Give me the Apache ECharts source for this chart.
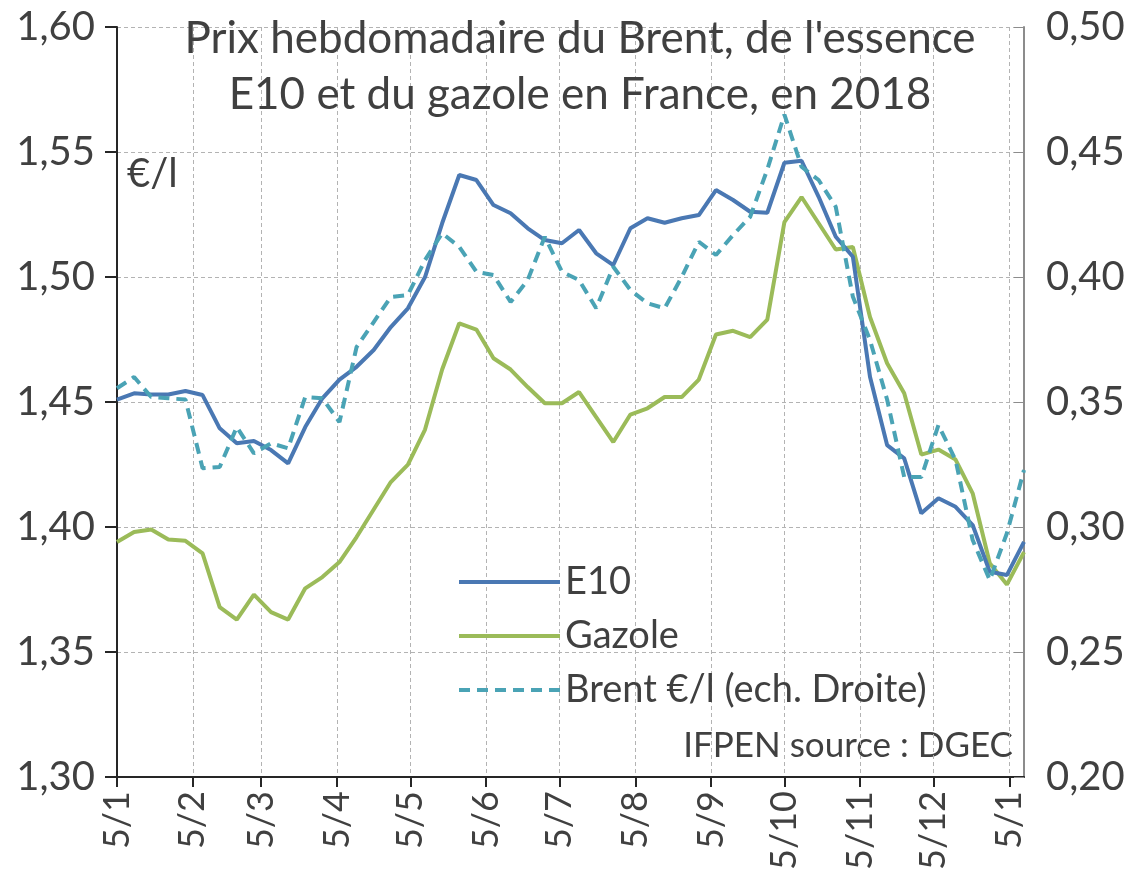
<!DOCTYPE html>
<html>
<head>
<meta charset="utf-8">
<script src="https://cdn.jsdelivr.net/npm/echarts@6/dist/echarts.min.js"></script>
<style>
html, body { margin: 0; padding: 0; background: #fff; }
#chart { width: 1137px; height: 873px; }
</style>
</head>
<body>
<div id="chart"></div>
<script>
// semaines (vendredi) 2018
var weeks = ['2018-01-05','2018-01-12','2018-01-19','2018-01-26','2018-02-02','2018-02-09','2018-02-16','2018-02-23',
  '2018-03-02','2018-03-09','2018-03-16','2018-03-23','2018-03-30','2018-04-06','2018-04-13','2018-04-20','2018-04-27',
  '2018-05-04','2018-05-11','2018-05-18','2018-05-25','2018-06-01','2018-06-08','2018-06-15','2018-06-22','2018-06-29',
  '2018-07-06','2018-07-13','2018-07-20','2018-07-27','2018-08-03','2018-08-10','2018-08-17','2018-08-24','2018-08-31',
  '2018-09-07','2018-09-14','2018-09-21','2018-09-28','2018-10-05','2018-10-12','2018-10-19','2018-10-26',
  '2018-11-02','2018-11-09','2018-11-16','2018-11-23','2018-11-30','2018-12-07','2018-12-14','2018-12-21','2018-12-28',
  '2019-01-04','2019-01-11'];

var e10 = [1.451,1.4535,1.453,1.453,1.4544,1.4528,1.4395,1.4335,1.4344,1.4308,
  1.4255,1.440,1.4515,1.459,1.4641,1.4708,1.480,1.4875,1.500,1.5215,
  1.5408,1.5388,1.5288,1.5255,1.5195,1.5148,1.5135,1.5188,1.5095,1.5048,
  1.5195,1.5235,1.5217,1.5235,1.5248,1.5348,1.5308,1.5261,1.5257,1.5457,
  1.5465,1.5321,1.5161,1.5081,1.4601,1.4328,1.4275,1.4055,1.4115,1.4081,
  1.4008,1.3821,1.3808,1.3941];

var gazole = [1.394,1.398,1.399,1.395,1.3945,1.3895,1.368,1.363,1.373,1.366,
  1.363,1.3755,1.380,1.386,1.396,1.407,1.418,1.425,1.439,1.463,
  1.4815,1.479,1.4675,1.463,1.456,1.4495,1.4495,1.454,1.444,1.434,
  1.445,1.4475,1.452,1.452,1.459,1.477,1.4785,1.476,1.483,1.522,
  1.532,1.5215,1.511,1.512,1.484,1.4655,1.4535,1.429,1.431,1.427,
  1.4135,1.3855,1.377,1.390];

var brent = [0.3555,0.360,0.352,0.3515,0.351,0.3235,0.324,0.340,0.3295,0.3335,
  0.3315,0.352,0.3515,0.342,0.372,0.382,0.392,0.3928,0.4068,0.4175,
  0.4121,0.4021,0.4008,0.390,0.3988,0.4161,0.4021,0.3988,0.3875,0.4041,
  0.3948,0.3895,0.3875,0.400,0.4141,0.4088,0.4168,0.4241,0.443,0.465,
  0.4441,0.4388,0.4281,0.3921,0.3748,0.351,0.320,0.320,0.3408,0.3268,
  0.2948,0.2788,0.2975,0.3228];

// graduations : le 5 de chaque mois
var monthTicks = ['2018-01-05','2018-02-05','2018-03-05','2018-04-05','2018-05-05','2018-06-05','2018-07-05',
  '2018-08-05','2018-09-05','2018-10-05','2018-11-05','2018-12-05','2019-01-05'];

function ts(d) {
  return Date.parse(d + 'T00:00:00Z');
}

function pairs(vals) {
  var out = [];
  for (var i = 0; i < vals.length; i++) {
    out.push([ts(weeks[i]), vals[i]]);
  }
  return out;
}

var tickTs = monthTicks.map(ts);
var font = 'Lato, "Open Sans", sans-serif';
var txt = '#404040';
var gridLine = { show: true, lineStyle: { color: '#b3b3b3', type: [4, 3], width: 1 } };

var myChart = echarts.init(document.getElementById('chart'));
myChart.setOption({
  animation: false,
  textStyle: { fontFamily: font },
  title: {
    text: "Prix hebdomadaire du Brent, de l'essence\nE10 et du gazole en France, en 2018",
    left: 575,
    top: 6,
    textAlign: 'center',
    textStyle: { fontFamily: font, fontSize: 44, fontWeight: 'normal', color: txt, lineHeight: 56 }
  },
  legend: {
    orient: 'vertical',
    left: 452,
    top: 558,
    itemWidth: 101,
    itemHeight: 14,
    itemGap: 16,
    itemStyle: { opacity: 0 },
    lineStyle: { width: 4 },
    textStyle: { fontFamily: font, fontSize: 38, color: txt, padding: [0, 0, 0, 0] },
    data: ['E10', 'Gazole', 'Brent €/l (ech. Droite)']
  },
  grid: { left: 117, right: 113, top: 27, bottom: 95 },
  xAxis: {
    type: 'value',
    min: ts('2018-01-05'),
    max: ts('2019-01-11'),
    axisLine: { lineStyle: { color: '#262626', width: 2 } },
    axisTick: { show: true, length: 10, customValues: tickTs, lineStyle: { color: '#262626', width: 2 } },
    splitLine: gridLine,
    axisLabel: {
      customValues: tickTs,
      rotate: 90,
      margin: 14,
      fontSize: 36,
      color: txt,
      fontFamily: font,
      formatter: function (v) {
        return '5/' + (new Date(v).getUTCMonth() + 1);
      }
    }
  },
  yAxis: [
    {
      type: 'value',
      min: 1.30,
      max: 1.60,
      interval: 0.05,
      axisLine: { show: true, lineStyle: { color: '#262626', width: 2 } },
      axisTick: { show: true, length: 12, lineStyle: { color: '#262626', width: 2 } },
      splitLine: gridLine,
      axisLabel: {
        margin: 22, fontSize: 40, color: txt, fontFamily: font,
        formatter: function (v) { return v.toFixed(2).replace('.', ','); }
      }
    },
    {
      type: 'value',
      min: 0.20,
      max: 0.50,
      interval: 0.05,
      position: 'right',
      axisLine: { show: true, lineStyle: { color: '#8c8c8c', width: 2 } },
      axisTick: { show: true, inside: true, length: 10, lineStyle: { color: '#8c8c8c', width: 1 } },
      splitLine: { show: false },
      axisLabel: {
        margin: 22, fontSize: 40, color: txt, fontFamily: font,
        formatter: function (v) { return v.toFixed(2).replace('.', ','); }
      }
    }
  ],
  graphic: [
    { type: 'text', left: 127, top: 154, style: { text: '€/l', fontSize: 40, fill: txt, fontFamily: font } },
    { type: 'text', right: 124, top: 728, style: { text: 'IFPEN source : DGEC', fontSize: 35, fill: txt, fontFamily: font } }
  ],
  series: [
    {
      name: 'Gazole',
      type: 'line',
      yAxisIndex: 0,
      showSymbol: false,
      symbol: 'none',
      data: pairs(gazole),
      lineStyle: { color: '#9bbb59', width: 4 },
      itemStyle: { color: '#9bbb59' }
    },
    {
      name: 'E10',
      type: 'line',
      yAxisIndex: 0,
      showSymbol: false,
      symbol: 'none',
      data: pairs(e10),
      lineStyle: { color: '#4a78b3', width: 4 },
      itemStyle: { color: '#4a78b3' }
    },
    {
      name: 'Brent €/l (ech. Droite)',
      type: 'line',
      yAxisIndex: 1,
      showSymbol: false,
      symbol: 'none',
      data: pairs(brent),
      lineStyle: { color: '#4aa3b5', width: 4, type: [11, 7] },
      itemStyle: { color: '#4aa3b5' }
    }
  ]
});
</script>
</body>
</html>
